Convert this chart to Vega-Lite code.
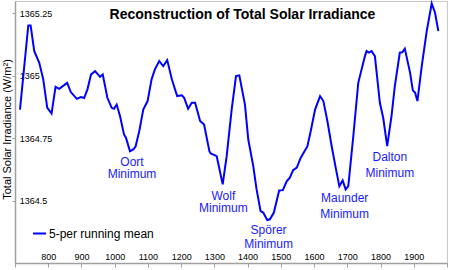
{
  "$schema": "https://vega.github.io/schema/vega-lite/v6.json",
  "width": 432,
  "height": 262,
  "autosize": {"type": "none"},
  "padding": {"left": 15, "top": 1, "right": 3, "bottom": 7},
  "background": "white",
  "config": {"view": {"stroke": "#c8c8c8", "strokeWidth": 1}, "font": "Liberation Sans"},
  "title": {"text": "Reconstruction of Total Solar Irradiance", "fontSize": 14, "fontWeight": "bold", "font": "Liberation Sans", "color": "#000000", "anchor": "middle", "frame": "group", "offset": -34, "baseline": "alphabetic", "dx": 11.5},
  "encoding": {
    "x": {"field": "year", "type": "quantitative", "scale": {"domain": [700, 2000], "nice": false, "zero": false},
      "axis": {"values": [700, 800, 900, 1000, 1100, 1200, 1300, 1400, 1500, 1600, 1700, 1800, 1900, 2000], "format": "d", "labelExpr": "datum.value == 700 || datum.value == 2000 ? '' : datum.label", "title": null, "grid": false, "domainColor": "#a0a0a0", "domainWidth": 1.5, "tickColor": "#a0a0a0", "tickSize": 4, "labelPadding": -10.5, "labelBaseline": "middle", "labelFontSize": 9, "labelColor": "#000000", "labelFont": "Liberation Sans", "labelFlush": false, "labelOverlap": false}},
    "y": {"field": "value", "type": "quantitative", "scale": {"domain": [1364.25, 1365.3], "nice": false, "zero": false},
      "axis": {"values": [1364.5, 1364.75, 1365, 1365.25], "format": ".2~f", "title": "Total Solar Irradiance (W/m²)", "titleFontSize": 11, "titleFontWeight": "normal", "titleColor": "#000000", "titleFont": "Liberation Sans", "titleX": -8, "titleY": 128, "titleAngle": 270, "titleAlign": "center", "titleBaseline": "middle", "labelAlign": "left", "labelBaseline": "middle", "labelPadding": -7.3, "tickSize": 3, "grid": false, "domainColor": "#a0a0a0", "domainWidth": 1.5, "tickColor": "#a0a0a0", "labelFontSize": 9, "labelColor": "#000000", "labelFont": "Liberation Sans", "labelOverlap": false}}
  },
  "layer": [
    {
      "data": {"values": [
        {"year": 715, "value": 1364.865}, {"year": 740, "value": 1365.202}, {"year": 747, "value": 1365.202}, {"year": 758, "value": 1365.099}, {"year": 773, "value": 1365.052}, {"year": 785, "value": 1364.986}, {"year": 797, "value": 1364.873}, {"year": 810, "value": 1364.849}, {"year": 822, "value": 1364.956}, {"year": 833, "value": 1364.948}, {"year": 857, "value": 1364.972}, {"year": 868, "value": 1364.935}, {"year": 886, "value": 1364.908}, {"year": 898, "value": 1364.915}, {"year": 908, "value": 1364.911}, {"year": 918, "value": 1364.946}, {"year": 929, "value": 1365.006}, {"year": 941, "value": 1365.019}, {"year": 956, "value": 1364.996}, {"year": 964, "value": 1365.006}, {"year": 978, "value": 1364.912}, {"year": 991, "value": 1364.872}, {"year": 998, "value": 1364.868}, {"year": 1006, "value": 1364.885}, {"year": 1016, "value": 1364.839}, {"year": 1028, "value": 1364.765}, {"year": 1034, "value": 1364.752}, {"year": 1046, "value": 1364.698}, {"year": 1056, "value": 1364.705}, {"year": 1063, "value": 1364.718}, {"year": 1074, "value": 1364.779}, {"year": 1086, "value": 1364.865}, {"year": 1099, "value": 1364.899}, {"year": 1111, "value": 1364.986}, {"year": 1121, "value": 1365.026}, {"year": 1134, "value": 1365.059}, {"year": 1146, "value": 1365.039}, {"year": 1158, "value": 1365.063}, {"year": 1172, "value": 1364.986}, {"year": 1188, "value": 1364.919}, {"year": 1202, "value": 1364.922}, {"year": 1209, "value": 1364.912}, {"year": 1221, "value": 1364.868}, {"year": 1232, "value": 1364.892}, {"year": 1242, "value": 1364.892}, {"year": 1257, "value": 1364.819}, {"year": 1269, "value": 1364.805}, {"year": 1285, "value": 1364.698}, {"year": 1289, "value": 1364.689}, {"year": 1307, "value": 1364.678}, {"year": 1325, "value": 1364.565}, {"year": 1337, "value": 1364.678}, {"year": 1352, "value": 1364.865}, {"year": 1365, "value": 1364.999}, {"year": 1375, "value": 1365.002}, {"year": 1392, "value": 1364.885}, {"year": 1402, "value": 1364.745}, {"year": 1417, "value": 1364.638}, {"year": 1427, "value": 1364.545}, {"year": 1439, "value": 1364.458}, {"year": 1447, "value": 1364.452}, {"year": 1459, "value": 1364.422}, {"year": 1467, "value": 1364.425}, {"year": 1479, "value": 1364.452}, {"year": 1495, "value": 1364.541}, {"year": 1506, "value": 1364.542}, {"year": 1518, "value": 1364.578}, {"year": 1527, "value": 1364.592}, {"year": 1537, "value": 1364.622}, {"year": 1548, "value": 1364.632}, {"year": 1560, "value": 1364.672}, {"year": 1580, "value": 1364.718}, {"year": 1590, "value": 1364.779}, {"year": 1603, "value": 1364.865}, {"year": 1618, "value": 1364.919}, {"year": 1628, "value": 1364.899}, {"year": 1640, "value": 1364.819}, {"year": 1653, "value": 1364.718}, {"year": 1666, "value": 1364.625}, {"year": 1676, "value": 1364.558}, {"year": 1686, "value": 1364.581}, {"year": 1695, "value": 1364.545}, {"year": 1703, "value": 1364.558}, {"year": 1718, "value": 1364.758}, {"year": 1733, "value": 1364.972}, {"year": 1743, "value": 1365.026}, {"year": 1753, "value": 1365.079}, {"year": 1758, "value": 1365.099}, {"year": 1765, "value": 1365.093}, {"year": 1773, "value": 1365.099}, {"year": 1783, "value": 1365.079}, {"year": 1798, "value": 1364.892}, {"year": 1808, "value": 1364.832}, {"year": 1820, "value": 1364.718}, {"year": 1833, "value": 1364.839}, {"year": 1843, "value": 1364.959}, {"year": 1858, "value": 1365.093}, {"year": 1866, "value": 1365.095}, {"year": 1873, "value": 1365.109}, {"year": 1889, "value": 1365.012}, {"year": 1897, "value": 1364.943}, {"year": 1904, "value": 1364.932}, {"year": 1911, "value": 1364.899}, {"year": 1924, "value": 1365.039}, {"year": 1939, "value": 1365.179}, {"year": 1954, "value": 1365.29}, {"year": 1964, "value": 1365.253}, {"year": 1974, "value": 1365.179}
      ]},
      "mark": {"type": "line", "strokeWidth": 2},
      "encoding": {
        "color": {"datum": "5-per running mean", "scale": {"range": ["#0000ff"]},
          "legend": {"orient": "none", "legendX": 17, "legendY": 225, "title": null, "symbolType": "stroke", "symbolSize": 169, "symbolStrokeWidth": 2, "labelFontSize": 12, "labelColor": "#000000", "labelFont": "Liberation Sans", "padding": 0, "labelOffset": 2}}
      }
    },
    {
      "data": {"values": [
        {"year": 1052, "value": 1364.656, "label": "Oort"},
        {"year": 1052, "value": 1364.606, "label": "Minimum"},
        {"year": 1327, "value": 1364.52, "label": "Wolf"},
        {"year": 1327, "value": 1364.47, "label": "Minimum"},
        {"year": 1463, "value": 1364.382, "label": "Spörer"},
        {"year": 1463, "value": 1364.325, "label": "Minimum"},
        {"year": 1692, "value": 1364.509, "label": "Maunder"},
        {"year": 1692, "value": 1364.448, "label": "Minimum"},
        {"year": 1828, "value": 1364.674, "label": "Dalton"},
        {"year": 1828, "value": 1364.612, "label": "Minimum"}
      ]},
      "mark": {"type": "text", "fontSize": 12, "font": "Liberation Sans", "color": "#1a1aff", "align": "center", "baseline": "middle"},
      "encoding": {"text": {"field": "label", "type": "nominal"}}
    }
  ]
}
